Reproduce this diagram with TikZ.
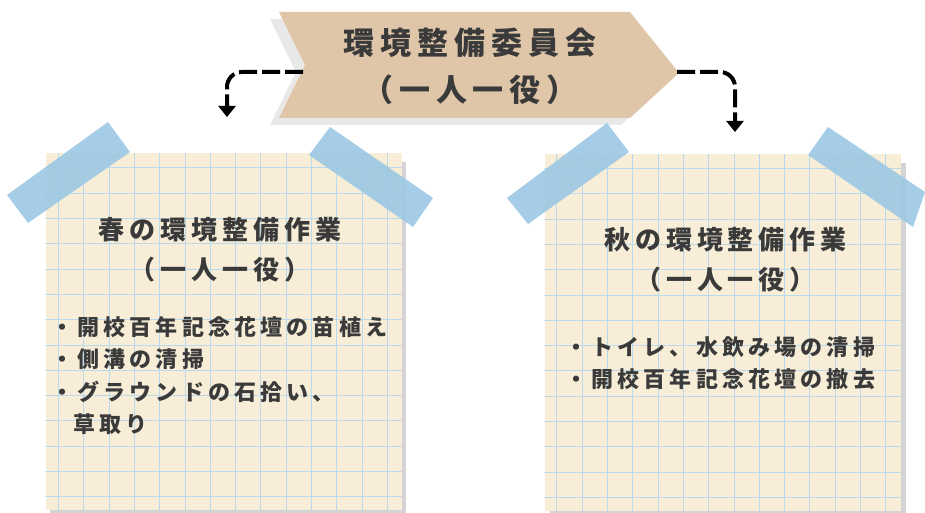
\documentclass[tikz,border=0pt]{standalone}
\usepackage{fontspec}
\newfontfamily\jpfont{Noto Sans CJK JP}[LetterSpace=19]
\usetikzlibrary{arrows.meta}

\definecolor{kraft}{HTML}{DFC6A9}
\definecolor{memo}{HTML}{F8EED8}
\definecolor{gridblue}{HTML}{B9DAEC}
\definecolor{tape}{HTML}{9CC8E4}
\definecolor{ink}{HTML}{3A3A3A}
\definecolor{papershade}{HTML}{D4D4D6}
\definecolor{bannershade}{HTML}{E8E8E8}

\tikzset{
  paper/.style={fill=memo, minimum width=356pt, minimum height=356pt, inner sep=0pt},
  gridline/.style={gridblue, line width=0.6pt},
  tapestrip/.style={fill=tape, fill opacity=0.9},
  dashline/.style={line width=4pt, dash pattern=on 18pt off 5pt, rounded corners=15pt,
    -{Triangle[width=17pt,length=11pt]}},
  title/.style={text=ink, align=center, font=\jpfont\bfseries\fontsize{26}{40}\selectfont},
  bullets/.style={text=ink, align=left, inner sep=0pt, anchor=north west,
    font=\jpfont\bfseries\fontsize{22}{32.5}\selectfont},
}

\begin{document}
\begin{tikzpicture}[x=1pt, y=-1pt]
\useasboundingbox (0,0) rectangle (925,513);

% committee banner
\fill[bannershade] (270,19) -- (621,19) -- (670,80) -- (621,125) -- (270,125) -- (296,72) -- cycle;
\fill[kraft] (279,12) -- (630,12) -- (679,73) -- (630,118) -- (279,118) -- (305,65) -- cycle;
\node[title, font=\jpfont\bfseries\fontsize{31}{47}\selectfont] (committee) at (470,66) {環境整備委員会\\（一人一役）};
\coordinate (bannerleft) at (303,72);
\coordinate (bannertip) at (677,72);

% spring memo
\fill[papershade] (50,162) rectangle (406,514);
\node[paper] (spring) at (223.5,331.5) {};
\begin{scope}
  \clip (spring.north west) rectangle (spring.south east);
  \foreach \k in {0,...,14} {
    \draw[gridline] (58.3+25.3*\k,150) -- (58.3+25.3*\k,515);
    \draw[gridline] (40,167.7+25.3*\k) -- (410,167.7+25.3*\k);
  }
\end{scope}
\node[title] (springtitle) at (220,250) {春の環境整備作業\\（一人一役）};
\node[bullets] (springlist) at (51,316) {・開校百年記念花壇の苗植え\\・側溝の清掃\\・グラウンドの石拾い、\\\phantom{・}草取り};
\fill[tapestrip] (7,195) -- (108,122) -- (130,152) -- (28,223) -- cycle;
\fill[tapestrip] (309,155) -- (330,127) -- (433,198) -- (413,227) -- cycle;

% autumn memo
\fill[papershade] (550,163) rectangle (906,514);
\node[paper] (autumn) at (722.5,332.5) {};
\begin{scope}
  \clip (autumn.north west) rectangle (autumn.south east);
  \foreach \k in {0,...,14} {
    \draw[gridline] (556.7+25.3*\k,150) -- (556.7+25.3*\k,515);
    \draw[gridline] (540,168.3+25.3*\k) -- (905,168.3+25.3*\k);
  }
\end{scope}
\node[title] (autumntitle) at (725.5,260) {秋の環境整備作業\\（一人一役）};
\node[bullets] (autumnlist) at (565,336) {・トイレ、水飲み場の清掃\\・開校百年記念花壇の撤去};
\fill[tapestrip] (507,198) -- (607,123) -- (629,152) -- (528,224) -- cycle;
\fill[tapestrip] (808,155) -- (828,127) -- (925,192) -- (913,227) -- cycle;

% arrows
\coordinate (springtip) at (227,117);
\coordinate (autumntip) at (735,132);
\draw[dashline] (bannerleft) -| (springtip);
\draw[dashline] (bannertip) -| (autumntip);
\end{tikzpicture}
\end{document}
